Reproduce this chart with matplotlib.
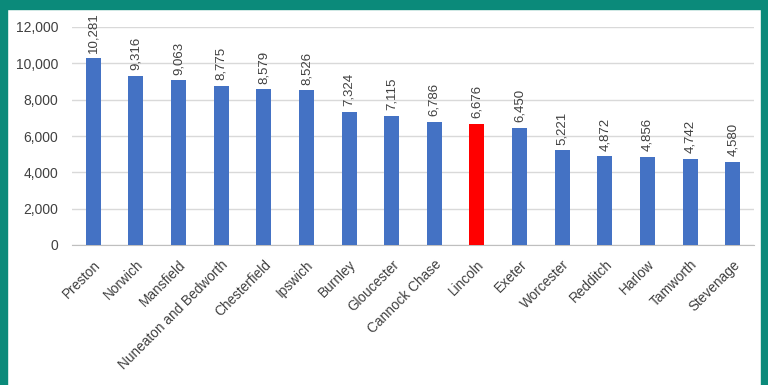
import matplotlib.pyplot as plt
from matplotlib.patches import Rectangle

towns = ['Preston', 'Norwich', 'Mansfield', 'Nuneaton and Bedworth', 'Chesterfield',
         'Ipswich', 'Burnley', 'Gloucester', 'Cannock Chase', 'Lincoln', 'Exeter',
         'Worcester', 'Redditch', 'Harlow', 'Tamworth', 'Stevenage']
values = [10281, 9316, 9063, 8775, 8579, 8526, 7324, 7115, 6786, 6676, 6450,
          5221, 4872, 4856, 4742, 4580]
highlight = 'Lincoln'

plt.rcParams['font.family'] = ['Liberation Sans', 'DejaVu Sans']

fig = plt.figure(figsize=(7.68, 3.85), dpi=100)
fig.patch.set_facecolor('white')

# teal frame around the chart
teal = '#0b8a7a'
fig.patches.append(Rectangle((0, 1 - 9 / 385), 1, 9 / 385, transform=fig.transFigure, color=teal, zorder=0))
fig.patches.append(Rectangle((0, 0), 7 / 768, 1, transform=fig.transFigure, color=teal, zorder=0))
fig.patches.append(Rectangle((761 / 768, 0), 7 / 768, 1, transform=fig.transFigure, color=teal, zorder=0))

ax = fig.add_axes([72 / 768, 1 - 245 / 385, (754 - 72) / 768, (245 - 27) / 385])

colors = ['#ff0000' if t == highlight else '#4472c4' for t in towns]
x = range(len(towns))
bars = ax.bar(x, values, width=0.35, color=colors, zorder=3)

for b, v in zip(bars, values):
    ax.annotate(f'{v:,}', (b.get_x() + b.get_width() / 2, v), xytext=(0, 4),
                textcoords='offset points', rotation=90, ha='center', va='bottom',
                fontsize=9.5, color='#404040')

ax.set_xlim(-0.5, len(towns) - 0.5)
ax.set_ylim(0, 12000)
ax.set_yticks(range(0, 12001, 2000))
ax.set_yticklabels([f'{t:,}' for t in range(0, 12001, 2000)], fontsize=10, color='#404040')
ax.set_xticks(list(x))
ax.set_xticklabels(towns, rotation=45, ha='right', rotation_mode='anchor',
                   fontsize=9.8, color='#404040')
ax.tick_params(axis='y', length=0, pad=10)
ax.tick_params(axis='x', length=0, pad=9)

ax.grid(axis='y', color='#d9d9d9', linewidth=1, zorder=0)
for s in ['top', 'right', 'left']:
    ax.spines[s].set_visible(False)
ax.spines['bottom'].set_color('#bfbfbf')

fig.savefig('out.png', dpi=100)
